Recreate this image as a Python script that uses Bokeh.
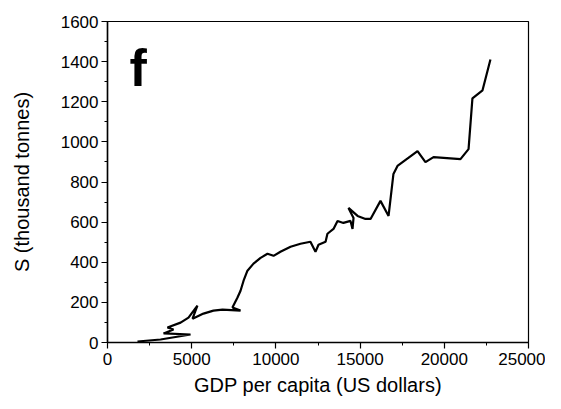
from bokeh.plotting import figure
from bokeh.models import SingleIntervalTicker, Range1d, Label
from bokeh.embed import file_html
from bokeh.resources import INLINE

# GDP per capita (US dollars) and S (thousand tonnes)
gdp = [1780, 3150, 4930, 3330, 3920, 3560, 4340, 4810, 5340, 5050, 5700, 6290,
       6830, 7900, 7420, 7720, 7900, 8080, 8310, 8670, 9090, 9500, 9860, 10270,
       10870, 11460, 12050, 12350, 12530, 12950, 13060, 13420, 13660, 14010,
       14430, 14550, 14610, 14310, 14850, 15320, 15620, 16210, 16690, 16980,
       17220, 18410, 18880, 19360, 20960, 21440, 21670, 22270, 22740]
s_val = [5, 15, 40, 45, 65, 75, 99, 124, 184, 119, 144, 159,
         164, 159, 174, 224, 258, 308, 358, 393, 422, 442, 432, 452,
         477, 492, 502, 452, 487, 502, 542, 566, 606, 596,
         606, 566, 621, 671, 631, 616, 616, 706, 631, 840,
         880, 954, 899, 924, 914, 964, 1217, 1257, 1411]

x_label = "GDP per capita (US dollars)"
y_label = "S (thousand tonnes)"
panel = "f"

FONT = "Liberation Sans"

p = figure(width=545, height=400, output_backend="svg", toolbar_location=None,
           x_range=Range1d(0, 25000), y_range=Range1d(0, 1600),
           min_border_left=107, min_border_right=17, min_border_top=21,
           min_border_bottom=58)
p.grid.visible = False
p.outline_line_color = "black"
p.outline_line_width = 1.2
p.background_fill_color = "white"
p.border_fill_color = "white"

p.line(gdp, s_val, line_color="black", line_width=2.2)

p.xaxis.ticker = SingleIntervalTicker(interval=5000, num_minor_ticks=2)
p.yaxis.ticker = SingleIntervalTicker(interval=200, num_minor_ticks=2)

for ax in (p.xaxis, p.yaxis):
    ax.axis_line_color = "black"
    ax.axis_line_width = 1.5
    ax.major_tick_line_color = "black"
    ax.major_tick_line_width = 1.2
    ax.minor_tick_line_color = "black"
    ax.major_tick_out = 6
    ax.major_tick_in = 0
    ax.minor_tick_out = 3
    ax.minor_tick_in = 0
    ax.major_label_text_font = FONT
    ax.major_label_text_font_size = "17px"
    ax.major_label_text_color = "black"
    ax.axis_label_text_font = FONT
    ax.axis_label_text_font_size = "20px"
    ax.axis_label_text_font_style = "normal"
    ax.axis_label_text_color = "black"

p.xaxis.axis_label = x_label
p.yaxis.axis_label = y_label
p.xaxis.major_label_standoff = 4
p.yaxis.major_label_standoff = 3
p.xaxis.axis_label_standoff = 6
p.yaxis.axis_label_standoff = 25

p.add_layout(Label(x=1300, y=1370, text=panel, text_font=FONT,
                   text_font_size="52px", text_font_style="bold",
                   text_color="black", text_baseline="alphabetic"))

open("out.html", "w").write(file_html(p, INLINE))
